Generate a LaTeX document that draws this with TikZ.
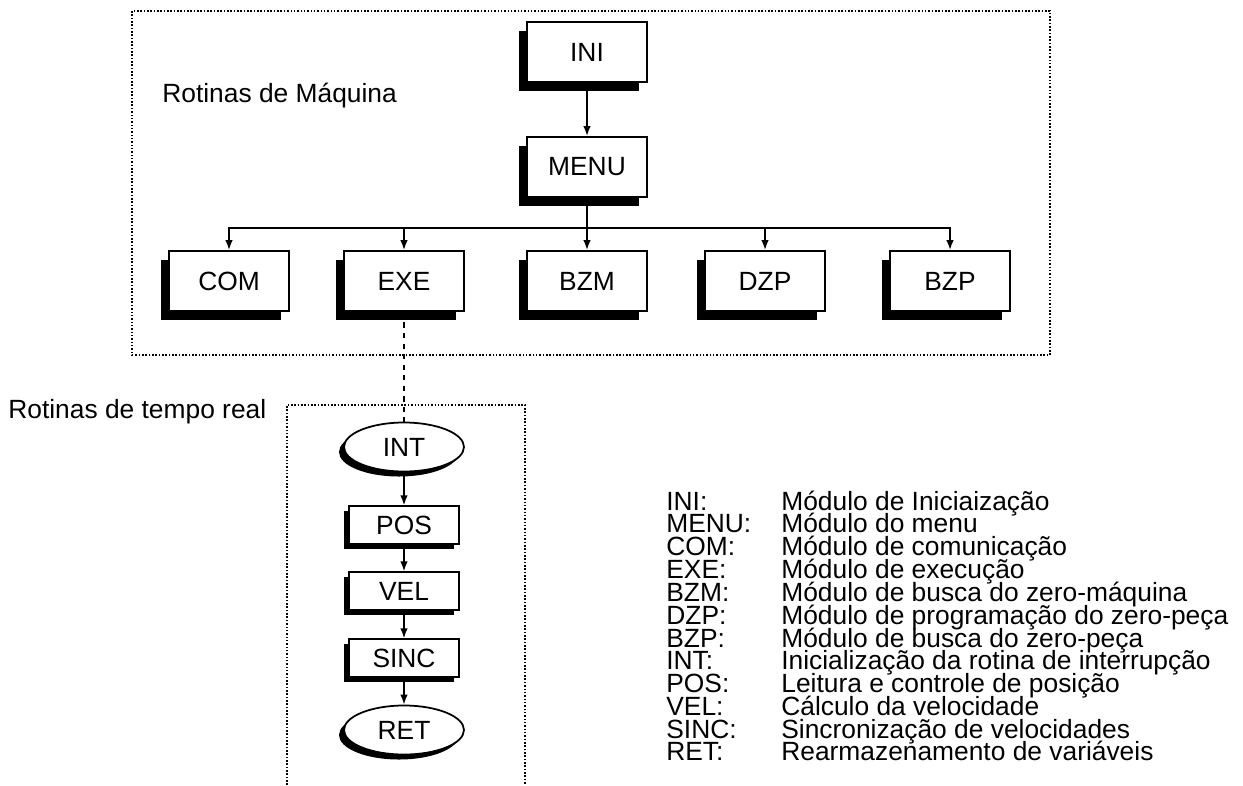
\documentclass[tikz,border=0pt]{standalone}
\usepackage{fontspec}
\setmainfont{Liberation Sans}
\usetikzlibrary{positioning, arrows.meta, shapes.geometric, shadows}

\begin{document}
\begin{tikzpicture}[
      every node/.style={font=\fontsize{15}{18}\selectfont},
      modulo/.style={draw, fill=white, line width=1pt,
                     minimum width=2.4cm, minimum height=1.2cm,
                     drop shadow={shadow xshift=-0.17cm, shadow yshift=-0.17cm,
                                  fill=black, opacity=1}},
      rotina/.style={draw, fill=white, line width=1pt,
                     minimum width=2.2cm, minimum height=0.75cm,
                     drop shadow={shadow xshift=-0.1cm, shadow yshift=-0.1cm,
                                  fill=black, opacity=1}},
      extremo/.style={rotina, ellipse, minimum width=2.4cm, minimum height=0.98cm},
      grupo/.style={line width=0.9pt, densely dotted},
      liga/.style={->, line width=1pt},
      >={Latex[length=2mm, width=1.5mm]},
    ]
    \useasboundingbox (0,0) rectangle (24.86,-15.7);

    \draw[grupo] (2.64,-0.22) rectangle (21.0,-7.1);
    \draw[grupo] (5.74,-15.7) |- (10.5,-8.1) -- (10.5,-15.7);

    \node[anchor=base west, inner sep=0] (maquina)   at (3.24,-2.04) {Rotinas de Máquina};
    \node[anchor=base west, inner sep=0] (temporeal) at (0.16,-8.36) {Rotinas de tempo real};

    \node[modulo] (INI)  at (11.74,-1.04) {INI};
    \node[modulo] (MENU) at (11.74,-3.34) {MENU};
    \node[modulo] (COM)  at (4.58,-5.62)  {COM};
    \node[modulo] (EXE)  at (8.08,-5.62)  {EXE};
    \node[modulo] (BZM)  at (11.74,-5.62) {BZM};
    \node[modulo] (DZP)  at (15.3,-5.62)  {DZP};
    \node[modulo] (BZP)  at (19.0,-5.62)  {BZP};
    \coordinate (barra) at (11.74,-4.56);

    \node[extremo] (INT)  at (8.08,-8.94)  {INT};
    \node[rotina]  (POS)  at (8.08,-10.5)  {POS};
    \node[rotina]  (VEL)  at (8.08,-11.82) {VEL};
    \node[rotina]  (SINC) at (8.08,-13.16) {SINC};
    \node[extremo] (RET)  at (8.08,-14.6)  {RET};

    \draw[liga] (INI) -- (MENU);
    \draw[liga] (MENU) -- (barra) -| (COM);
    \draw[liga] (MENU) -- (barra) -| (EXE);
    \draw[liga] (MENU) -- (barra) -| (BZM);
    \draw[liga] (MENU) -- (barra) -| (DZP);
    \draw[liga] (MENU) -- (barra) -| (BZP);
    \draw[dashed, line width=0.9pt] (EXE) -- (INT);
    \draw[liga] (INT) -- (POS);
    \draw[liga] (POS) -- (VEL);
    \draw[liga] (VEL) -- (SINC);
    \draw[liga] (SINC) -- (RET);

    \node[anchor=base west, inner sep=0, font=\fontsize{15}{12.94}\selectfont]
      (legenda) at (13.32,-10.2) {%
      \begin{tabular}[t]{@{}p{2.3cm}@{}l@{}}
        INI:  & Módulo de Iniciaização\\[-1.9pt]
        MENU: & Módulo do menu\\[-1.9pt]
        COM:  & Módulo de comunicação\\[-1.9pt]
        EXE:  & Módulo de execução\\[-1.9pt]
        BZM:  & Módulo de busca do zero-máquina\\[-1.9pt]
        DZP:  & Módulo de programação do zero-peça\\[-1.9pt]
        BZP:  & Módulo de busca do zero-peça\\[-1.9pt]
        INT:  & Inicialização da rotina de interrupção\\[-1.9pt]
        POS:  & Leitura e controle de posição\\[-1.9pt]
        VEL:  & Cálculo da velocidade\\[-1.9pt]
        SINC: & Sincronização de velocidades\\[-1.9pt]
        RET:  & Rearmazenamento de variáveis
      \end{tabular}};
  \end{tikzpicture}
\end{document}
